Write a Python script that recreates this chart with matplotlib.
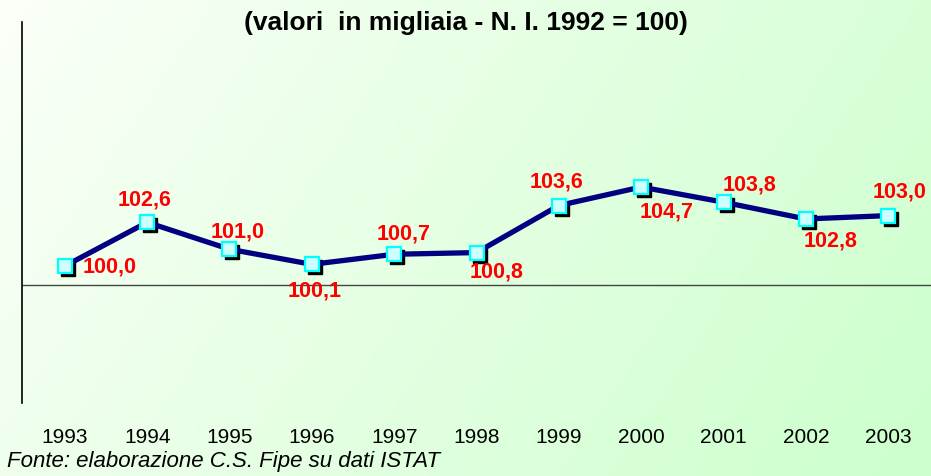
import matplotlib

matplotlib.use("Agg")

import matplotlib.pyplot as plt
import matplotlib.transforms as mtransforms
import numpy as np
from matplotlib.colors import LinearSegmentedColormap

years = ["1993", "1994", "1995", "1996", "1997", "1998",
         "1999", "2000", "2001", "2002", "2003"]
index_values = [100.0, 102.6, 101.0, 100.1, 100.7, 100.8,
                103.6, 104.7, 103.8, 102.8, 103.0]

title = "(valori  in migliaia - N. I. 1992 = 100)"
source = "Fonte: elaborazione C.S. Fipe su dati ISTAT"

# hand-placed label offsets (pixels, x right / y up) as in the original
label_offsets = [(45, -1), (-3, 22), (8, 17), (3, -27), (9, 20), (20, -19),
                 (-2, 24), (25, -25), (26, 17), (25, -22), (11, 24)]

plt.rcParams["font.family"] = ["Liberation Sans", "DejaVu Sans"]

fig = plt.figure(figsize=(9.31, 4.76), dpi=100)

# diagonal light-green gradient background
bg = fig.add_axes((0, 0, 1, 1), zorder=-10)
gx, gy = np.meshgrid(np.linspace(0, 1, 200), np.linspace(0, 1, 100))
grad = 0.75 * gx + 0.25 * gy
cmap = LinearSegmentedColormap.from_list("bg", ["#FBFFF8", "#CCFFCC"])
bg.imshow(grad, cmap=cmap, aspect="auto", extent=(0, 1, 0, 1), origin="upper")
bg.set_axis_off()

ax = fig.add_axes((22 / 931, 73 / 476, 1 - 22 / 931, 381 / 476))
ax.patch.set_alpha(0)
x = np.arange(len(years))

ax.set_xlim(-0.52, len(years) - 0.48)
ax.set_ylim(91.85, 114.52)
for side in ("top", "right", "bottom"):
    ax.spines[side].set_visible(False)
ax.spines["left"].set_linewidth(1.2)
ax.axhline(98.87, color="#444444", linewidth=1.0, zorder=1)

# marker shadow, offset 3px right/down
shadow_tr = mtransforms.offset_copy(ax.transData, fig=fig, x=3, y=-3, units="dots")
ax.plot(x, index_values, linestyle="none", marker="s", markersize=10,
        color="black", transform=shadow_tr, zorder=2)
ax.plot(x, index_values, color="#000080", linewidth=3.8, zorder=3)
ax.plot(x, index_values, linestyle="none", marker="s", markersize=10,
        markerfacecolor="#CCFFFF", markeredgecolor="#00FFFF",
        markeredgewidth=1.6, zorder=4)

for xi, v, (dx, dy) in zip(x, index_values, label_offsets):
    ax.annotate(f"{v:.1f}".replace(".", ","), (xi, v), xytext=(dx, dy),
                textcoords="offset pixels", ha="center", va="center",
                color="#FF0000", fontsize=15.5, fontweight="bold", zorder=5)

ax.set_yticks([])
ax.set_xticks(x)
ax.set_xticklabels(years, fontsize=15)
ax.tick_params(axis="x", length=0, pad=18)

fig.text(0.5, 1 - 23 / 476, title, ha="center", va="center",
         fontsize=19, fontweight="bold")
fig.text(7 / 931, 1 - 462 / 476, source, ha="left", va="center",
         fontsize=16, style="italic")

fig.savefig("out.png", dpi=100)
